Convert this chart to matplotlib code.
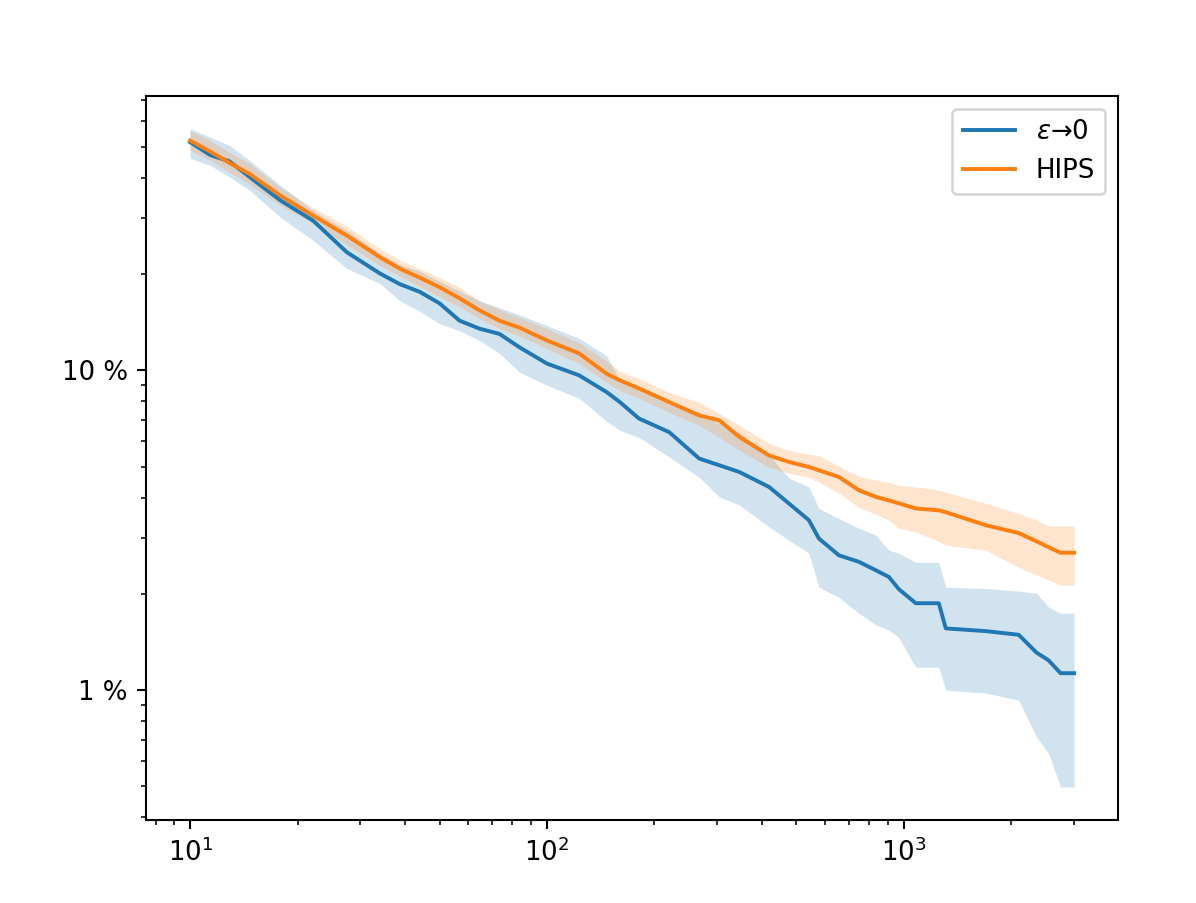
import matplotlib
matplotlib.use("Agg")
import matplotlib.pyplot as plt
from matplotlib.ticker import FuncFormatter

# x positions (log axis) shared by every series
steps = [10, 11.4, 12.9, 14.7, 17.9, 22.1, 27.5, 34.0, 38.7, 44.0,
         50.0, 56.9, 64.7, 73.6, 83.8, 100, 123, 147, 160, 181,
         220, 267, 304, 346, 419, 477, 542, 578, 658, 748,
         835, 908, 968, 1080, 1253, 1311, 1696, 2098, 2355, 2544,
         2749, 3000]

# epsilon -> 0 (percent)
eps_mean = [51.7, 47.1, 45.0, 40.2, 34.0, 29.4, 23.4, 20.1, 18.6, 17.6,
            16.2, 14.3, 13.5, 13.0, 11.8, 10.5, 9.65, 8.55, 7.96, 7.07,
            6.41, 5.30, 5.05, 4.81, 4.32, 3.83, 3.40, 2.98, 2.64, 2.52,
            2.37, 2.26, 2.07, 1.87, 1.87, 1.56, 1.53, 1.49, 1.31, 1.24,
            1.13, 1.13]
eps_upper = [57.0, 53.6, 50.5, 45.3, 37.9, 31.6, 27.4, 23.2, 21.4, 20.4,
             19.0, 17.7, 16.5, 15.7, 14.9, 13.8, 12.6, 11.1, 9.31, 8.66,
             7.94, 7.39, 6.83, 6.40, 5.42, 4.60, 4.32, 3.70, 3.44, 3.21,
             3.05, 2.74, 2.68, 2.51, 2.51, 2.10, 2.08, 2.04, 2.01, 1.82,
             1.74, 1.74]
eps_lower = [46.0, 43.7, 40.2, 36.5, 30.1, 25.5, 20.8, 18.7, 16.5, 15.3,
             14.0, 13.3, 12.4, 11.3, 9.86, 8.98, 8.18, 6.93, 6.49, 6.17,
             5.36, 4.63, 4.02, 3.79, 3.24, 2.94, 2.68, 2.10, 1.95, 1.74,
             1.60, 1.54, 1.46, 1.18, 1.18, 1.00, 0.98, 0.93, 0.713, 0.635,
             0.498, 0.498]

# HIPS (percent)
hips_mean = [52.3, 48.3, 44.5, 41.1, 35.2, 30.5, 26.4, 22.6, 20.8, 19.5,
             18.2, 16.8, 15.4, 14.3, 13.6, 12.4, 11.3, 9.76, 9.31, 8.78,
             7.96, 7.23, 6.98, 6.19, 5.42, 5.17, 4.99, 4.87, 4.64, 4.22,
             4.02, 3.92, 3.84, 3.70, 3.65, 3.60, 3.28, 3.10, 2.92, 2.80,
             2.69, 2.69]
hips_upper = [56.2, 52.3, 48.0, 44.3, 37.3, 32.3, 28.2, 24.0, 22.1, 20.8,
              19.5, 18.2, 16.5, 15.5, 14.6, 13.5, 12.2, 10.7, 9.93, 9.44,
              8.53, 7.94, 7.34, 6.73, 5.91, 5.62, 5.46, 5.42, 5.01, 4.67,
              4.53, 4.47, 4.37, 4.32, 4.22, 4.16, 3.84, 3.57, 3.40, 3.26,
              3.26, 3.26]
hips_lower = [48.7, 45.3, 41.6, 38.1, 32.8, 28.8, 24.7, 21.3, 19.7, 18.3,
              17.0, 15.8, 14.5, 13.5, 12.8, 11.7, 10.5, 9.17, 8.66, 8.18,
              7.39, 6.73, 6.17, 5.62, 4.97, 4.77, 4.63, 4.47, 4.13, 3.73,
              3.55, 3.40, 3.21, 3.12, 2.92, 2.84, 2.74, 2.42, 2.29, 2.21,
              2.13, 2.13]

series = [
    (r"$\varepsilon$→0", eps_mean, eps_lower, eps_upper, "C0"),
    ("HIPS", hips_mean, hips_lower, hips_upper, "C1"),
]

fig, ax = plt.subplots(figsize=(6.396, 4.829), dpi=187)
fig.subplots_adjust(left=0.122, right=0.935, top=0.894, bottom=0.092)

for label, mean, lower, upper, color in series:
    ax.plot(steps, mean, color=color, label=label)
    ax.fill_between(steps, lower, upper, color=color, alpha=0.2, linewidth=0)

ax.set_xscale("log")
ax.set_yscale("log")
ax.yaxis.set_major_formatter(FuncFormatter(lambda v, _: f"{v:g} %"))
ax.legend(loc="upper right")

fig.savefig("out.png", dpi=187)
